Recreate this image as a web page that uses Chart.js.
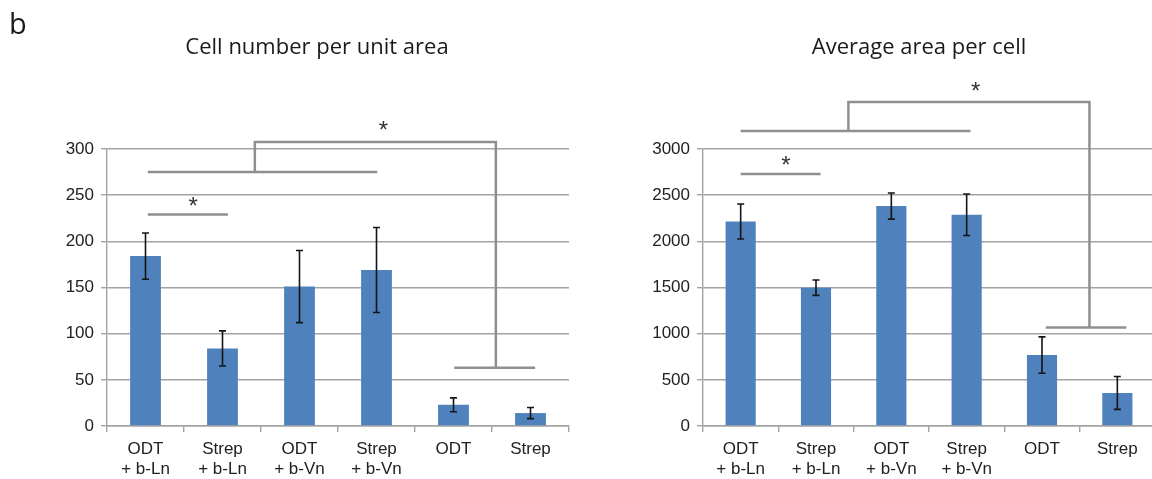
<!DOCTYPE html>
<html>
<head>
<meta charset="utf-8">
<script src="https://cdn.jsdelivr.net/npm/chart.js@4"></script>
<style>
html, body { margin: 0; padding: 0; background: #fff; overflow: hidden; width: 1152px; height: 479px; }
#caixaA { position: absolute; left: 0; top: 0; width: 576px; height: 479px; }
#caixaB { position: absolute; left: 576px; top: 0; width: 584px; height: 479px; }
</style>
</head>
<body>
<div id="caixaA"><canvas id="graficoNumero"></canvas></div>
<div id="caixaB"><canvas id="graficoArea"></canvas></div>
<script>
// dados
const categorias = [['ODT', '+ b-Ln'], ['Strep', '+ b-Ln'], ['ODT', '+ b-Vn'], ['Strep', '+ b-Vn'], 'ODT', 'Strep'];
const numeroCelulas = [184, 84, 151, 169, 23, 14];
const erroNumero = [25, 19, 39, 46, 7.5, 6];
const ticksNumero = [0, 50, 100, 150, 200, 250, 300];
const areaCelula = [2215, 1498, 2382, 2288, 768, 358];
const erroArea = [190, 83, 142, 225, 197, 178];
const ticksArea = [0, 500, 1000, 1500, 2000, 2500, 3000];

// colchetes de significância: [posição em categorias, valor]
const colchetesNumero = [
    [[0.03, 229], [1.07, 229]],
    [[0.03, 275], [3.01, 275]],
    [[1.42, 275], [1.42, 307.5], [4.55, 307.5], [4.55, 63]],
    [[4.01, 63], [5.06, 63]]
];
const estrelasNumero = [[0.62, 244], [3.09, 326]];
const colchetesArea = [
    [[0.0, 2730], [1.06, 2730]],
    [[0.0, 3194], [3.05, 3194]],
    [[1.43, 3194], [1.43, 3510], [4.63, 3510], [4.63, 1068]],
    [[4.05, 1068], [5.12, 1068]]
];
const estrelasArea = [[0.6, 2885], [3.12, 3683]];

const cinza = '#a3a3a3';
const fonteEixo = { family: '"Liberation Sans", Arial, sans-serif', size: 17 };

const extras = {
    id: 'extras',
    afterDatasetsDraw(chart, args, opts) {
        const ctx = chart.ctx, x = chart.scales.x, y = chart.scales.y;
        const meta = chart.getDatasetMeta(0);
        ctx.save();
        // barras de erro
        ctx.strokeStyle = '#151515';
        ctx.lineWidth = 1.6;
        meta.data.forEach((bar, i) => {
            const v = opts.valores[i], e = opts.erros[i];
            const yt = y.getPixelForValue(v + e), yb = y.getPixelForValue(v - e);
            ctx.beginPath();
            ctx.moveTo(bar.x, yt); ctx.lineTo(bar.x, yb);
            ctx.moveTo(bar.x - 3.5, yt); ctx.lineTo(bar.x + 3.5, yt);
            ctx.moveTo(bar.x - 3.5, yb); ctx.lineTo(bar.x + 3.5, yb);
            ctx.stroke();
        });
        // colchetes
        const passo = x.getPixelForValue(1) - x.getPixelForValue(0);
        const px = c => x.getPixelForValue(0) + c * passo;
        ctx.strokeStyle = '#8f8f8f';
        ctx.lineWidth = 2.5;
        opts.colchetes.forEach(linha => {
            ctx.beginPath();
            linha.forEach((p, k) => {
                const xx = px(p[0]), yy = y.getPixelForValue(p[1]);
                if (k === 0) ctx.moveTo(xx, yy); else ctx.lineTo(xx, yy);
            });
            ctx.stroke();
        });
        ctx.fillStyle = '#333';
        ctx.font = '24px "Liberation Sans", Arial, sans-serif';
        ctx.textAlign = 'center';
        ctx.textBaseline = 'alphabetic';
        opts.estrelas.forEach(s => {
            ctx.fillText('*', px(s[0]), y.getPixelForValue(s[1]) + 13.5);
        });
        ctx.restore();
    },
    afterDraw(chart, args, opts) {
        const ctx = chart.ctx;
        ctx.save();
        ctx.fillStyle = '#1a1a1a';
        ctx.textAlign = 'center';
        ctx.textBaseline = 'middle';
        ctx.font = '22px "Open Sans", sans-serif';
        ctx.fillText(opts.titulo, opts.tituloX, 48);
        if (opts.letra) {
            ctx.textAlign = 'left';
            ctx.textBaseline = 'alphabetic';
            ctx.font = '29px "Open Sans", sans-serif';
            ctx.fillText(opts.letra, 9, 34);
        }
        ctx.restore();
    }
};

function opcoes(ticks, larguraY, direita, extrasOpts) {
    return {
        responsive: true,
        maintainAspectRatio: false,
        animation: false,
        layout: { padding: { top: 149, right: direita, bottom: 0, left: 0 } },
        plugins: {
            legend: { display: false },
            tooltip: { enabled: false },
            extras: extrasOpts
        },
        scales: {
            x: {
                grid: { drawOnChartArea: false, tickLength: 6, color: cinza, lineWidth: 1.4 },
                border: { color: cinza, width: 1.4 },
                ticks: { color: '#222', font: Object.assign({ lineHeight: 1.15 }, fonteEixo), padding: 8, maxRotation: 0 },
                afterFit: s => { s.height = 53; }
            },
            y: {
                min: ticks[0],
                max: ticks[ticks.length - 1],
                afterBuildTicks: s => { s.ticks = ticks.map(v => ({ value: v })); },
                grid: { color: cinza, lineWidth: 1.4, tickLength: 6 },
                border: { color: cinza, width: 1.4 },
                ticks: { color: '#222', font: fonteEixo, padding: 7, callback: v => String(v) },
                afterFit: s => { s.width = larguraY; }
            }
        }
    };
}

const ctxNumero = document.getElementById('graficoNumero').getContext('2d');
const graficoNumero = new Chart(ctxNumero, {
    type: 'bar',
    data: {
        labels: categorias,
        datasets: [{
            data: numeroCelulas,
            backgroundColor: '#4f81bd',
            categoryPercentage: 1,
            barPercentage: 0.4
        }]
    },
    options: opcoes(ticksNumero, 107, 7, {
        valores: numeroCelulas, erros: erroNumero,
        colchetes: colchetesNumero, estrelas: estrelasNumero,
        titulo: 'Cell number per unit area', tituloX: 317, letra: 'b'
    }),
    plugins: [extras]
});

const ctxArea = document.getElementById('graficoArea').getContext('2d');
const graficoArea = new Chart(ctxArea, {
    type: 'bar',
    data: {
        labels: categorias,
        datasets: [{
            data: areaCelula,
            backgroundColor: '#4f81bd',
            categoryPercentage: 1,
            barPercentage: 0.4
        }]
    },
    options: opcoes(ticksArea, 127, 5, {
        valores: areaCelula, erros: erroArea,
        colchetes: colchetesArea, estrelas: estrelasArea,
        titulo: 'Average area per cell', tituloX: 343
    }),
    plugins: [extras]
});
</script>
</body>
</html>
